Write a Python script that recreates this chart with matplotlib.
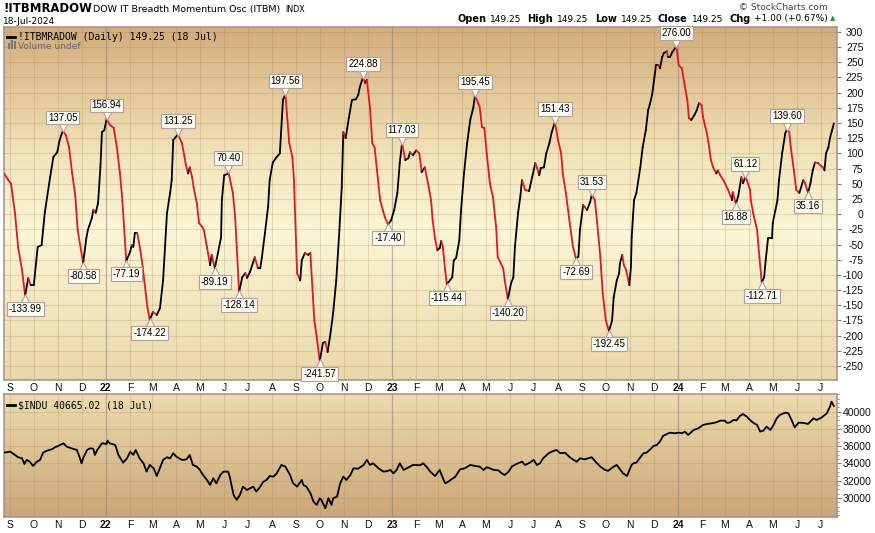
import numpy as np
import matplotlib
matplotlib.use('Agg')
import matplotlib.pyplot as plt
import matplotlib.dates as mdates
from matplotlib.collections import LineCollection
from matplotlib.colors import LinearSegmentedColormap
from matplotlib.patches import Rectangle
from matplotlib.transforms import offset_copy

plt.rcParams['axes.unicode_minus'] = False
plt.rcParams['font.family'] = 'DejaVu Sans'

# values, days counted from 24-Aug-2021
start = np.datetime64('2021-08-24')

osc_day = [0, 5, 9, 11, 14, 18, 23, 27, 31, 34, 38, 43, 48, 52, 59, 63, 68, 71, 75, 79,
           83, 87, 91, 94, 101, 105, 107, 112, 114, 117, 120, 123, 125, 128, 131, 135, 140, 144, 148, 151,
           156, 161, 163, 165, 167, 170, 174, 177, 183, 186, 190, 195, 199, 203, 208, 212, 214, 216, 218, 222,
           227, 230, 232, 235, 237, 240, 242, 246, 249, 253, 255, 259, 263, 265, 269, 273, 277, 278, 281, 285,
           286, 288, 292, 295, 297, 300, 304, 308, 310, 314, 318, 320, 324, 327, 329, 333, 337, 339, 343, 348,
           352, 356, 359, 361, 364, 368, 370, 374, 378, 380, 384, 388, 391, 393, 396, 399, 403, 407, 410, 413,
           416, 420, 424, 428, 431, 433, 436, 440, 444, 449, 452, 454, 458, 461, 463, 467, 470, 473, 476, 480,
           486, 490, 494, 498, 502, 505, 508, 512, 516, 518, 522, 526, 530, 533, 537, 541, 545, 547, 550, 553,
           556, 558, 560, 563, 565, 569, 572, 574, 577, 581, 583, 587, 591, 595, 599, 601, 605, 607, 610, 613,
           616, 620, 624, 628, 630, 634, 637, 639, 643, 647, 650, 652, 656, 659, 661, 665, 670, 674, 678, 680,
           683, 685, 689, 692, 696, 699, 703, 707, 711, 713, 717, 722, 726, 730, 733, 735, 739, 741, 744, 748,
           750, 754, 757, 761, 764, 768, 772, 776, 778, 782, 785, 786, 789, 791, 794, 798, 800, 801, 804, 807,
           812, 815, 819, 822, 824, 827, 830, 832, 835, 837, 840, 842, 846, 847, 850, 853, 858, 861, 865, 869,
           872, 874, 877, 881, 884, 887, 890, 892, 895, 897, 900, 902, 905, 909, 911, 914, 918, 921, 924, 927,
           929, 930, 934, 937, 941, 943, 946, 948, 952, 953, 956, 961, 964, 967, 970, 972, 975, 980, 981, 987,
           989, 993, 997, 999, 1002, 1004, 1008, 1011, 1015, 1020, 1022, 1026, 1029, 1032, 1035, 1039, 1043, 1045, 1047, 1049,
           1052, 1054, 1059]
osc_val = [67, 57, 50, 30, 2, -54, -92, -133.99, -105, -117, -117, -54, -51, 2, 62, 94, 102, 122, 137.05, 130,
           110, 67, 30, -26, -80.58, -40, -26, -7, 7, 2, 18, 77, 135, 138, 156.94, 147, 142, 110, 67, 23,
           -77.19, -62, -51, -54, -31, -31, -59, -87, -153, -174.22, -161, -166, -155, -109, 2, 35, 56, 122, 125, 131.25,
           117, 97, 81, 67, 77, 61, 44, 18, -15, -21, -26, -54, -84, -67, -89.19, -64, -38, 23, 64, 66,
           70.40, 60, 35, -5, -54, -128.14, -104, -97, -105, -95, -79, -71, -89, -89, -72, -31, 12, 56, 85, 94,
           100, 188, 197.56, 166, 117, 94, 56, -97, -109, -76, -64, -67, -64, -109, -175, -202, -241.57, -212, -210, -227,
           -202, -163, -109, -26, 44, 135, 125, 158, 188, 189, 196, 209, 224.88, 216, 221, 176, 117, 109, 72, 23,
           -5, -17.40, -10, 7, 35, 84, 117.03, 89, 92, 102, 97, 105, 100, 69, 77, 51, 23, -10, -40, -59,
           -56, -44, -54, -92, -115.44, -109, -104, -76, -72, -43, 2, 67, 117, 155, 176, 195.45, 183, 176, 143, 142,
           100, 51, 28, -21, -71, -81, -89, -109, -140.20, -114, -104, -54, 2, 30, 56, 40, 38, 61, 84, 77,
           64, 76, 77, 100, 117, 135, 151.43, 122, 100, 67, 35, -15, -54, -72.69, -70, -26, 15, 12, 7, 20,
           31.53, 23, -15, -71, -130, -175, -192.45, -175, -137, -109, -97, -81, -67, -84, -92, -117, -87, -38, 23, 35,
           77, 110, 138, 171, 180, 196, 225, 245, 245, 240, 259, 265, 268, 259, 259, 267, 276.00, 245, 240, 209,
           188, 158, 155, 163, 171, 183, 180, 160, 143, 133, 110, 89, 77, 67, 72, 64, 56, 48, 40, 30,
           23, 36, 16.88, 30, 61, 51, 61.12, 56, 40, 23, 2, -26, -71, -112.71, -104, -76, -40, -40, -15, 23,
           56, 100, 133, 139.60, 135, 110, 72, 40, 35, 56, 52, 35.16, 50, 72, 85, 84, 79, 77, 72, 100,
           110, 125, 149.25]

peak_day = [75, 131, 222, 286, 359, 458, 508, 601, 703, 750, 858, 946, 999]
peak_val = [137.05, 156.94, 131.25, 70.40, 197.56, 224.88, 117.03, 195.45, 151.43, 31.53, 276.00, 61.12, 139.60]
trough_day = [27, 101, 156, 186, 269, 300, 403, 490, 565, 643, 730, 772, 934, 967, 1026]
trough_val = [-133.99, -80.58, -77.19, -174.22, -89.19, -128.14, -241.57, -17.40, -115.44, -140.20,
              -72.69, -192.45, 16.88, -112.71, 35.16]

indu_day = [0, 8, 14, 18, 23, 26, 29, 33, 37, 42, 46, 50, 55, 61, 65, 69, 76, 80, 86, 93,
            97, 99, 101, 106, 110, 114, 116, 119, 125, 131, 132, 135, 142, 146, 152, 157, 161, 165, 168, 173,
            178, 182, 186, 191, 195, 198, 203, 208, 212, 216, 220, 227, 233, 237, 241, 246, 250, 254, 259, 263,
            267, 271, 276, 280, 286, 288, 293, 297, 301, 305, 310, 314, 318, 322, 327, 331, 335, 339, 344, 348,
            354, 359, 365, 369, 374, 380, 382, 386, 391, 395, 399, 403, 405, 408, 410, 414, 418, 420, 425, 429,
            433, 437, 442, 446, 452, 459, 463, 467, 471, 478, 484, 488, 493, 497, 501, 505, 510, 514, 522, 531,
            535, 539, 544, 550, 556, 561, 563, 567, 571, 576, 582, 588, 595, 601, 607, 612, 616, 620, 625, 631,
            635, 639, 644, 648, 654, 661, 665, 671, 676, 680, 684, 688, 695, 699, 705, 710, 716, 722, 727, 731,
            735, 741, 750, 756, 761, 767, 771, 778, 782, 786, 790, 795, 799, 801, 803, 807, 812, 816, 820, 824,
            829, 833, 837, 841, 846, 850, 856, 861, 865, 869, 873, 880, 886, 892, 897, 903, 909, 914, 920, 922,
            926, 931, 935, 939, 943, 948, 952, 956, 961, 965, 969, 973, 978, 982, 986, 990, 997, 1001, 1005, 1009,
            1014, 1020, 1026, 1033, 1037, 1043, 1050, 1054, 1056, 1059]
indu_val = [35260, 35370, 34990, 34720, 34600, 33940, 34410, 34210, 33710, 34210, 34410, 35260, 35490, 35640, 35870, 36030, 36340, 35950, 35760, 35570,
            34600, 34020, 34600, 35570, 35760, 35700, 34990, 35570, 36340, 36260, 36650, 36340, 36140, 34990, 34100, 34600, 35370, 34990, 35570, 34600,
            34020, 33060, 33830, 33440, 32550, 33250, 34410, 34720, 34600, 35180, 34790, 34410, 34480, 34990, 33830, 33640, 33250, 32670, 32090, 31510,
            32280, 31700, 32670, 33060, 33060, 32480, 30350, 29780, 30350, 31320, 30930, 31130, 31320, 30740, 31320, 31900, 32090, 32550, 32480, 32860,
            33830, 33640, 32670, 31700, 31320, 32090, 31510, 31320, 30550, 29580, 29200, 29970, 29780, 29200, 28810, 29970, 29200, 29970, 30160, 31700,
            32480, 32090, 32670, 33440, 33400, 33830, 34410, 33830, 34020, 33440, 33060, 33100, 33250, 32860, 33250, 34020, 33250, 33440, 33830, 33800,
            34020, 33640, 33060, 32550, 33250, 32090, 31700, 31900, 32170, 32480, 33330, 33440, 33830, 33710, 33640, 33250, 33560, 33440, 33250, 33200,
            32860, 32670, 33060, 33640, 33950, 34210, 33830, 34100, 34410, 33830, 34020, 34600, 35180, 35370, 35570, 35180, 35250, 34720, 34410, 34210,
            34600, 34480, 34720, 34100, 33640, 33250, 33150, 33640, 33830, 33330, 32860, 32550, 33440, 33830, 34020, 34100, 34720, 35180, 35260, 35570,
            36030, 36140, 36530, 37190, 37420, 37570, 37500, 37570, 37500, 37690, 37300, 37880, 38080, 38460, 38580, 38650, 38770, 38960, 38960, 38730,
            38730, 39040, 39000, 39500, 39730, 39420, 39040, 38730, 38460, 37690, 37800, 38270, 37880, 38460, 39230, 39620, 39890, 39810, 39040, 38190,
            38730, 38700, 38580, 39230, 39040, 39300, 39810, 40580, 41160, 40665.02]

osc_ticks = list(range(-250, 301, 25))
indu_ticks = list(range(30000, 40001, 2000))
months = np.arange(np.datetime64('2021-09'), np.datetime64('2024-08'), dtype='datetime64[M]')

W, H = 875, 533
RED = '#e0162b'
EDGE = '#a48e88'
BOXFC = '#fdfcf2'
BOXEC = '#b4a09a'


def days(d):
    return mdates.date2num(start + np.array(d, dtype='timedelta64[D]'))


def panel(box, stops, ylim, ticks):
    l, t, r, b = box
    ax = fig.add_axes([l / W, 1 - b / H, (r - l) / W, (b - t) / H])
    cmap = LinearSegmentedColormap.from_list('bg', stops)
    ax.imshow(np.linspace(0, 1, 256).reshape(-1, 1), cmap=cmap, aspect='auto',
              extent=[0, 1, 0, 1], transform=ax.transAxes, origin='lower', zorder=0)
    for v in ticks:
        ax.axhline(v, color='#a07a48', alpha=0.22, lw=0.8, zorder=1)
    mt = mdates.date2num(months.astype('datetime64[D]'))
    for m, x in zip(months, mt):
        if str(m).endswith('-01'):
            ax.axvline(x, color='#8e7c80', alpha=0.55, lw=0.9, zorder=1)
        else:
            ax.axvline(x, color='#a07a48', alpha=0.22, lw=0.8, zorder=1)
    ax.set_xlim(days(0), days(1063))
    ax.set_ylim(*ylim)
    ax.set_xticks(mt)
    labels = []
    for m in months:
        yy, mm = str(m).split('-')
        labels.append(yy[2:] if mm == '01' else 'JFMAMJJASOND'[int(mm) - 1])
    ax.set_xticklabels(labels)
    for lab in ax.get_xticklabels():
        lab.set_family('Liberation Sans')
        if lab.get_text().isdigit():
            lab.set_fontweight('bold')
    ax.tick_params(axis='x', length=0, pad=2, labelsize=7.5, colors='#111')
    ax.yaxis.tick_right()
    ax.set_yticks(ticks)
    ax.tick_params(axis='y', length=3, width=0.8, color='#8a7a70', labelsize=7.5, labelcolor='#111')
    for lab in ax.get_yticklabels():
        lab.set_family('Liberation Sans')
    for s in ax.spines.values():
        s.set_color(EDGE)
        s.set_linewidth(1.1)
    return ax


fig = plt.figure(figsize=(W / 100, H / 100), dpi=100)
fig.patch.set_facecolor('white')

# --- top panel: breadth momentum oscillator
ax1 = panel((4, 27, 837, 380),
            [(0.0, '#ead7a9'), (0.42, '#fbf6d6'), (0.62, '#f3e6bd'), (1.0, '#d3ad7b')],
            (-273, 308), osc_ticks)
ax1.tick_params(axis='y', pad=16)
for lab in ax1.get_yticklabels():
    lab.set_horizontalalignment('right')

t = days(osc_day)
pts = np.column_stack([t, osc_val])
segs = np.stack([pts[:-1], pts[1:]], axis=1)
cols = np.where(np.diff(osc_val) < 0, RED, '#000000')
ax1.add_collection(LineCollection(segs, colors=cols, linewidths=1.3,
                                  capstyle='round', joinstyle='round', zorder=3))

# label boxes with a small pointer triangle at the turning point
box_style = dict(boxstyle='square,pad=0.2', fc=BOXFC, ec=BOXEC, lw=0.8)
up = offset_copy(ax1.transData, fig=fig, x=0, y=3.5, units='dots')
down = offset_copy(ax1.transData, fig=fig, x=0, y=-3.5, units='dots')
ax1.plot(days(peak_day), peak_val, 'v', ms=6.5, mfc=BOXFC, mec=BOXEC, mew=0.8,
         transform=up, zorder=4, ls='none')
ax1.plot(days(trough_day), trough_val, '^', ms=6.5, mfc=BOXFC, mec=BOXEC, mew=0.8,
         transform=down, zorder=4, ls='none')
for d, v in zip(peak_day, peak_val):
    ax1.annotate(f'{v:.2f}', xy=(days(d), v), xytext=(0, 6), textcoords='offset points',
                 ha='center', va='bottom', fontsize=7, family='Liberation Sans',
                 bbox=box_style, zorder=5)
for d, v in zip(trough_day, trough_val):
    ax1.annotate(f'{v:.2f}', xy=(days(d), v), xytext=(0, -6), textcoords='offset points',
                 ha='center', va='top', fontsize=7, family='Liberation Sans',
                 bbox=box_style, zorder=5)

ax1.plot([0.004, 0.013], [0.973, 0.973], transform=ax1.transAxes, color='k', lw=2, zorder=6)
ax1.text(0.017, 0.973, f'!ITBMRADOW (Daily) {osc_val[-1]:.2f} (18 Jul)', transform=ax1.transAxes,
         family='DejaVu Sans Mono', fontsize=7, va='center', zorder=6)
for i, hgt in enumerate([0.018, 0.026, 0.022]):
    ax1.add_patch(Rectangle((0.0045 + i * 0.0035, 0.938), 0.0025, hgt, transform=ax1.transAxes,
                            color='#777', lw=0, zorder=6))
ax1.text(0.017, 0.946, 'Volume undef', transform=ax1.transAxes, fontsize=6.5,
         color='#666', va='center', zorder=6)

# --- bottom panel: Dow Jones Industrial Average
ax2 = panel((4, 394, 837, 517), [(0.0, '#cba677'), (1.0, '#ecdcae')], (27800, 42050), indu_ticks)
ax2.set_yticks(np.arange(28000, 42001, 500), minor=True)
ax2.tick_params(axis='y', which='minor', length=1.5, width=0.6, color='#8a7a70')
ax2.tick_params(axis='y', pad=1)
ax2.plot(days(indu_day), indu_val, color='k', lw=1.3, zorder=3)
ax2.plot([0.004, 0.013], [0.91, 0.91], transform=ax2.transAxes, color='k', lw=2, zorder=6)
ax2.text(0.017, 0.91, f'$INDU {indu_val[-1]:.2f} (18 Jul)', transform=ax2.transAxes,
         family='DejaVu Sans Mono', fontsize=7, va='center', zorder=6)

# --- header
fig.text(3 / W, 1 - 9 / H, '!ITBMRADOW', fontsize=8.4, fontweight='bold', va='center')
fig.text(93 / W, 1 - 9.5 / H, 'DOW IT Breadth Momentum Osc (ITBM)', fontsize=6.8, va='center')
fig.text(285 / W, 1 - 9.5 / H, 'INDX', fontsize=5.8, va='center')
fig.text(3 / W, 1 - 21.5 / H, '18-Jul-2024', fontsize=6.5, va='center')
fig.text(828 / W, 1 - 7 / H, '\u00a9 StockCharts.com', fontsize=6.5, color='#444',
         ha='right', va='center')

parts = [('Open', 'bold', 4), ('149.25', 'normal', 6), ('High', 'bold', 4), ('149.25', 'normal', 6),
         ('Low', 'bold', 4), ('149.25', 'normal', 6), ('Close', 'bold', 4), ('149.25', 'normal', 6),
         ('Chg', 'bold', 4), ('+1.00 (+0.67%)', 'normal', 0)]
r = fig.canvas.get_renderer()
widths = []
for s, w, g in parts:
    tmp = fig.text(0, 0, s, fontsize=7 if w == 'bold' else 6.5, fontweight=w)
    widths.append(tmp.get_window_extent(r).width + g)
    tmp.remove()
x = 828 - sum(widths)
for (s, w, g), wd in zip(parts, widths):
    fig.text(x / W, 1 - 19 / H, s, fontsize=7 if w == 'bold' else 6.5, fontweight=w, va='center')
    x += wd
fig.text(830 / W, 1 - 18.5 / H, '\u25b2', fontsize=5, color='#2e8b3a', va='center')

fig.savefig('out.png', dpi=100, facecolor='white')
